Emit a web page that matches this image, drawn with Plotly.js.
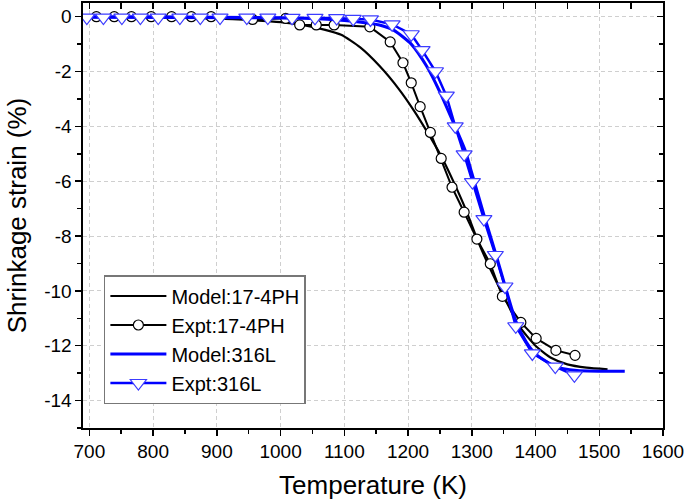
<!DOCTYPE html>
<html>
<head>
<meta charset="utf-8">
<script src="https://cdn.plot.ly/plotly-3.0.1.min.js"></script>
<style>html,body{margin:0;padding:0;background:#fff;}#chart{width:685px;height:504px;}</style>
</head>
<body>
<div id="chart"></div>
<script>
// Model:17-4PH
const model174T = [695, 750, 800, 850, 900, 950, 1000, 1040, 1070, 1095, 1125, 1155, 1185, 1210, 1230, 1250, 1270, 1290, 1310, 1330, 1350, 1375, 1400, 1425, 1450, 1480, 1513];
const model174S = [0, -0.01, -0.02, -0.04, -0.07, -0.12, -0.2, -0.33, -0.48, -0.66, -1.12, -1.79, -2.62, -3.45, -4.2, -5.0, -5.95, -7.0, -8.2, -9.25, -10.2, -11.3, -12.0, -12.45, -12.68, -12.8, -12.86];
// Expt:17-4PH
const expt174T = [711, 739, 766, 797, 829, 860, 891, 956, 1008, 1030, 1056, 1084, 1140, 1172, 1192, 1205, 1219, 1235, 1252, 1269, 1288, 1308, 1329, 1348, 1377, 1401, 1432, 1462];
const expt174S = [0, 0, 0, 0, 0, 0, 0, -0.1, -0.06, -0.3, -0.3, -0.3, -0.37, -0.92, -1.68, -2.41, -3.28, -4.22, -5.17, -6.22, -7.13, -8.11, -9.01, -10.2, -11.15, -11.73, -12.17, -12.35];
// Model:316L
const model316T = [695, 800, 900, 1000, 1080, 1120, 1155, 1178, 1205, 1229, 1249, 1270, 1290, 1300, 1320, 1337, 1352, 1369, 1385, 1400, 1430, 1465, 1540];
const model316S = [0, 0, -0.02, -0.04, -0.1, -0.18, -0.3, -0.5, -1.0, -1.8, -2.7, -3.8, -4.9, -5.7, -7.3, -8.6, -9.8, -11.1, -11.85, -12.3, -12.75, -12.9, -12.93];
// Expt:316L
const expt316T = [696, 722, 751, 780, 808, 842, 874, 905, 947, 980, 1018, 1054, 1088, 1114, 1141, 1175, 1205, 1222, 1243, 1260, 1274, 1288, 1301, 1319, 1337, 1352, 1369, 1395, 1431, 1461];
const expt316S = [-0.03, -0.03, -0.03, -0.03, -0.03, -0.03, -0.03, -0.03, -0.03, -0.03, -0.04, -0.04, -0.05, -0.08, -0.1, -0.28, -0.64, -1.22, -1.99, -2.88, -4.0, -5.02, -6.03, -7.38, -8.69, -9.84, -11.29, -12.28, -12.76, -13.08];

const xTicks = [700, 800, 900, 1000, 1100, 1200, 1300, 1400, 1500, 1600];
const yTicks = [0, -2, -4, -6, -8, -10, -12, -14];
const legendNames = ['Model:17-4PH', 'Expt:17-4PH', 'Model:316L', 'Expt:316L'];

const FONT = 'Liberation Sans, Arial, sans-serif';
const traces = [
  {x: model174T, y: model174S, name: legendNames[0], mode: 'lines', line: {color: '#000000', width: 2.2, shape: 'spline', smoothing: 0.6}},
  {x: expt174T, y: expt174S, name: legendNames[1], mode: 'lines+markers', line: {color: '#000000', width: 2},
   marker: {symbol: 'circle', size: 10, color: '#ffffff', line: {color: '#000000', width: 1.2}}},
  {x: model316T, y: model316S, name: legendNames[2], mode: 'lines', line: {color: '#0000ff', width: 3, shape: 'spline', smoothing: 0.6}},
  {x: expt316T, y: expt316S, name: legendNames[3], mode: 'lines+markers', line: {color: '#0000ff', width: 2.5},
   marker: {symbol: 'triangle-down', size: 14, color: '#ffffff', line: {color: '#3c3cff', width: 1.2}}},
  {x: [null], y: [null], xaxis: 'x2', yaxis: 'y2', showlegend: false, hoverinfo: 'skip', mode: 'lines'}
];

const axisCommon = {
  showline: true, linecolor: '#000000', linewidth: 1.6, zeroline: false,
  tickcolor: '#000000', tickwidth: 1.5
};

const layout = {
  width: 685, height: 504,
  margin: {l: 83, r: 22, t: 3, b: 76},
  paper_bgcolor: '#ffffff', plot_bgcolor: '#ffffff',
  font: {family: FONT, color: '#000000'},
  showlegend: true,
  xaxis: Object.assign({}, axisCommon, {
    range: [690, 1600], tickmode: 'array', tickvals: xTicks, ticktext: xTicks.map(String),
    ticks: 'outside', ticklen: 6,
    minor: {dtick: 50, tick0: 700, ticks: 'outside', ticklen: 4, tickwidth: 1.5, tickcolor: '#000000', showgrid: false},
    showgrid: true, gridcolor: '#cfcfcf', griddash: '4px,3px', gridwidth: 1,
    tickfont: {family: FONT, size: 19},
    title: {text: 'Temperature (K)', font: {family: FONT, size: 26}, standoff: 14}
  }),
  yaxis: Object.assign({}, axisCommon, {
    range: [-15, 0.5], tickmode: 'array', tickvals: yTicks, ticktext: yTicks.map(String),
    ticks: 'outside', ticklen: 6,
    minor: {dtick: 1, tick0: 0, ticks: 'outside', ticklen: 4, tickwidth: 1.5, tickcolor: '#000000', showgrid: false},
    showgrid: true, gridcolor: '#cfcfcf', griddash: '4px,3px', gridwidth: 1,
    tickfont: {family: FONT, size: 19},
    title: {text: 'Shrinkage strain (%)', font: {family: FONT, size: 26}, standoff: 10}
  }),
  xaxis2: Object.assign({}, axisCommon, {
    overlaying: 'x', side: 'top', range: [690, 1600], tick0: 700, dtick: 50,
    ticks: 'inside', ticklen: 6, showticklabels: false, showgrid: false
  }),
  yaxis2: Object.assign({}, axisCommon, {
    overlaying: 'y', side: 'right', range: [-15, 0.5], tick0: 0, dtick: 2,
    ticks: 'inside', ticklen: 6, showticklabels: false, showgrid: false,
    minor: {dtick: 1, tick0: 0, ticks: 'inside', ticklen: 4, tickwidth: 1.5, tickcolor: '#000000', showgrid: false}
  }),
  legend: {
    x: 0.036, y: 0.36, xanchor: 'left', yanchor: 'top',
    bgcolor: '#ffffff', bordercolor: '#777777', borderwidth: 1.5,
    font: {family: FONT, size: 20}, itemwidth: 56, tracegroupgap: 0,
    traceorder: 'normal'
  }
};

Plotly.newPlot('chart', traces, layout, {staticPlot: true, displayModeBar: false});
</script>
</body>
</html>
